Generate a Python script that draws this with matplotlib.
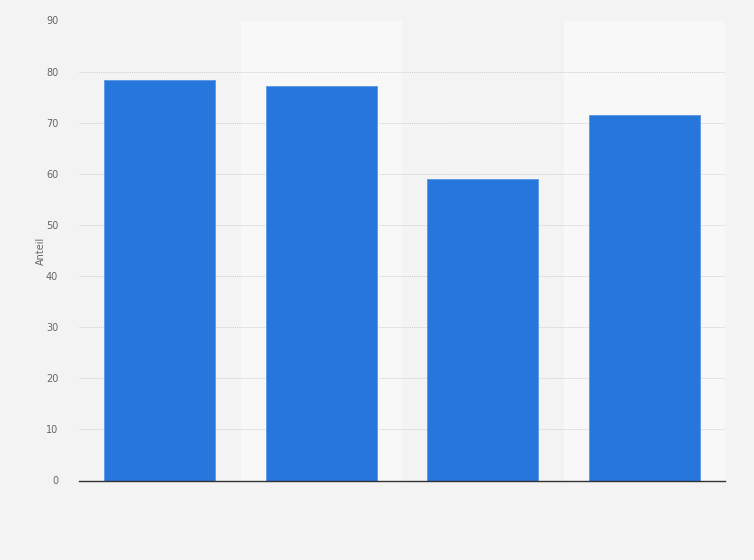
import matplotlib.pyplot as plt

# values
categories = ["A", "B", "C", "D"]
shares = [78.4, 77.2, 59.0, 71.5]
y_ticks = [0, 10, 20, 30, 40, 50, 60, 70, 80, 90]

BG = "#f3f3f3"
BAND = "#f8f8f8"
BAR = "#2776db"

fig = plt.figure(figsize=(7.54, 5.6), dpi=100, facecolor=BG)
ax = fig.add_axes([79 / 754, 79.5 / 560, 646 / 754, 460 / 560])
ax.set_facecolor(BG)

x = list(range(len(categories)))
for i in x:
    if i % 2 == 1:
        ax.axvspan(i - 0.5, i + 0.5, color=BAND, zorder=0, lw=0)

ax.bar(x, shares, width=0.69, color=BAR, edgecolor="#5a97e6", linewidth=0.6, zorder=3)

ax.set_xlim(-0.5, len(categories) - 0.5)
ax.set_ylim(0, 90)
ax.set_yticks(y_ticks)
ax.set_yticklabels([str(t) for t in y_ticks], fontsize=7, color="#666666")
ax.set_xticks([])
ax.tick_params(axis="y", length=0, pad=15)
ax.grid(axis="y", color="#cfcfcf", linestyle=(0, (1, 1)), linewidth=0.7, zorder=1)

for side in ("top", "right", "left"):
    ax.spines[side].set_visible(False)
ax.spines["bottom"].set_color("#333333")
ax.spines["bottom"].set_linewidth(1.0)
ax.spines["bottom"].set_zorder(4)

ax.set_ylabel("Anteil", fontsize=7, color="#666666", labelpad=0)

fig.savefig("out.png", dpi=100, facecolor=BG)
